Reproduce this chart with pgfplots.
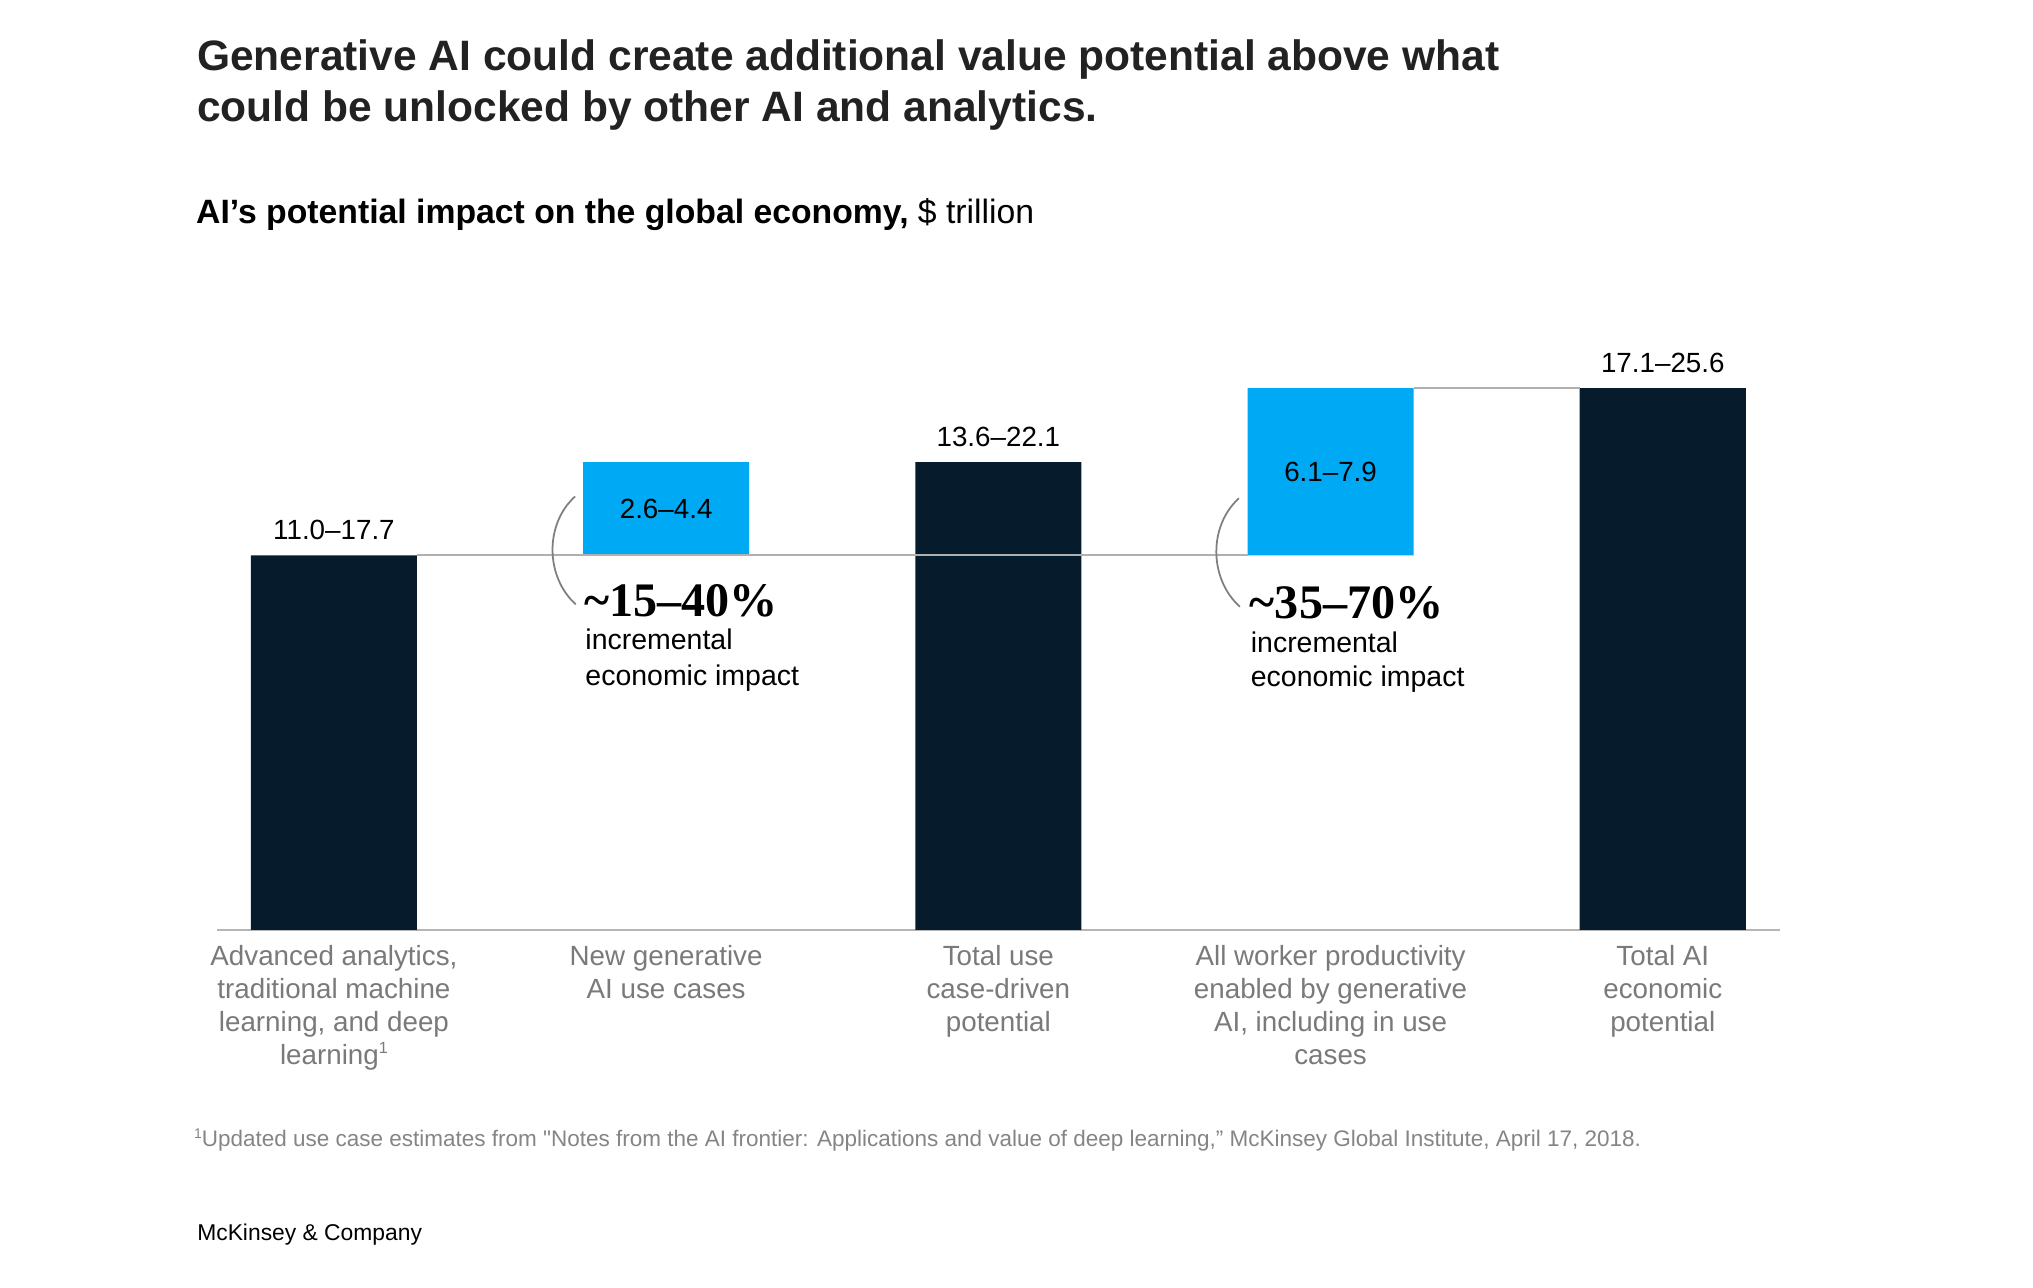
\documentclass[border=0pt]{standalone}
\usepackage{fontspec}
\setmainfont{Liberation Sans}
\newfontfamily\serifbold{Liberation Serif}
\usepackage{pgfplots}
\pgfplotsset{compat=1.18}
\definecolor{mckdark}{HTML}{061C2C}
\definecolor{mckblue}{HTML}{00A9F4}
\definecolor{linegray}{HTML}{B0B0B0}
\definecolor{axisgray}{HTML}{B5B5B5}
\definecolor{labgray}{HTML}{7A7A7A}
\definecolor{notegray}{HTML}{858585}
\definecolor{titleblack}{HTML}{222222}
\definecolor{arcgray}{HTML}{7F7F7F}
\pgfplotsset{frame/.style={
  at={(2.17cm,3.58cm)}, anchor=south west,
  scale only axis, width=15.627cm, height=6.351cm,
  xmin=-0.352, xmax=4.352, ymin=0, ymax=30,
  enlargelimits=false, clip=false}}
\newcommand{\smallsup}[1]{\raisebox{0.42em}{\fontsize{4.6}{5}\selectfont #1}}

\begin{document}
\begin{tikzpicture}
\path[use as bounding box, fill=white] (0,0) rectangle (20.33,12.88);

% Title and subtitle
\node[anchor=base west, inner sep=0, text=titleblack, font=\fontsize{12.1}{14.5}\selectfont\bfseries] at (1.965,12.17) {Generative AI could create additional value potential above what};
\node[anchor=base west, inner sep=0, text=titleblack, font=\fontsize{12.1}{14.5}\selectfont\bfseries] at (1.965,11.66) {could be unlocked by other AI and analytics.};
\node[anchor=base west, inner sep=0, font=\fontsize{9.6}{11}\selectfont] at (1.955,10.64) {\textbf{AI’s potential impact on the global economy,} \$ trillion};

\begin{axis}[
  frame,
  axis x line=bottom, axis y line=none,
  x axis line style={-, draw=axisgray, line width=0.65pt},
  xtick={0,1,2,3,4},
  xticklabels={{Advanced analytics,\\traditional machine\\learning, and deep\\learning\smallsup{1}},
               {New generative\\AI use cases},
               {Total use\\case-driven\\potential},
               {All worker productivity\\enabled by generative\\AI, including in use\\cases},
               {Total AI\\economic\\potential}},
  xticklabel style={align=center, anchor=north, yshift=-0.15cm, text=labgray,
                    font=\fontsize{7.9}{9.4}\selectfont, inner sep=0pt},
  major tick length=0pt, ytick=\empty,
  ybar stacked, bar width=0.5,
]
% invisible base for floating bars
\addplot[draw=none, fill=none] coordinates {(0,0) (1,17.7) (2,0) (3,17.7) (4,0)};
% totals
\addplot[draw=none, fill=mckdark] coordinates {(0,17.7) (1,0) (2,22.1) (3,0) (4,25.6)};
% increments
\addplot[draw=none, fill=mckblue] coordinates {(0,0) (1,4.4) (2,0) (3,7.9) (4,0)};
\end{axis}

\begin{axis}[frame, hide axis]
% connectors
\addplot[sharp plot, no marks, draw=linegray, line width=0.45pt] coordinates {(0.25,17.7) (2.75,17.7)};
\addplot[sharp plot, no marks, draw=linegray, line width=0.45pt] coordinates {(3.25,25.6) (3.75,25.6)};

% brackets
\draw[arcgray, line width=0.5pt] (axis cs:0.726,20.48) .. controls (axis cs:0.635,19.2) and (axis cs:0.635,16.7) .. (axis cs:0.728,15.38);
\draw[arcgray, line width=0.5pt] (axis cs:2.724,20.39) .. controls (axis cs:2.633,19.1) and (axis cs:2.633,16.6) .. (axis cs:2.727,15.27);

% value labels
\node[anchor=base, inner sep=0, font=\fontsize{7.9}{9}\selectfont, yshift=0.16cm] at (axis cs:0,17.7) {11.0–17.7};
\node[anchor=base, inner sep=0, font=\fontsize{7.9}{9}\selectfont, yshift=0.16cm] at (axis cs:2,22.1) {13.6–22.1};
\node[anchor=base, inner sep=0, font=\fontsize{7.9}{9}\selectfont, yshift=0.16cm] at (axis cs:4,25.6) {17.1–25.6};
\node[anchor=base, inner sep=0, font=\fontsize{7.9}{9}\selectfont, yshift=-0.1cm] at (axis cs:1,19.9) {2.6–4.4};
\node[anchor=base, inner sep=0, font=\fontsize{7.9}{9}\selectfont, yshift=-0.1cm] at (axis cs:3,21.65) {6.1–7.9};

% annotations
\node[anchor=base west, inner sep=0, font=\serifbold\bfseries\fontsize{13.7}{15}\selectfont] at (axis cs:0.752,14.80) {\textasciitilde15–40\%};
\node[anchor=base west, inner sep=0, font=\fontsize{8.1}{9.5}\selectfont] at (axis cs:0.755,13.23) {incremental};
\node[anchor=base west, inner sep=0, font=\fontsize{8.1}{9.5}\selectfont] at (axis cs:0.755,11.57) {economic impact};
\node[anchor=base west, inner sep=0, font=\serifbold\bfseries\fontsize{13.7}{15}\selectfont] at (axis cs:2.755,14.72) {\textasciitilde35–70\%};
\node[anchor=base west, inner sep=0, font=\fontsize{8.1}{9.5}\selectfont] at (axis cs:2.758,13.10) {incremental};
\node[anchor=base west, inner sep=0, font=\fontsize{8.1}{9.5}\selectfont] at (axis cs:2.758,11.49) {economic impact};
\end{axis}

% footnote and source
\node[anchor=base west, inner sep=0, text=notegray, font=\fontsize{6.4}{8}\selectfont] at (1.934,1.413) {\raisebox{0.35em}{\fontsize{4}{4}\selectfont 1}Updated use case estimates from \textquotedbl Notes from the AI frontier: Applications and value of deep learning,” McKinsey Global Institute, April 17, 2018.};
\node[anchor=base west, inner sep=0, font=\fontsize{6.5}{8}\selectfont] at (1.966,0.48) {McKinsey \& Company};
\end{tikzpicture}
\end{document}
